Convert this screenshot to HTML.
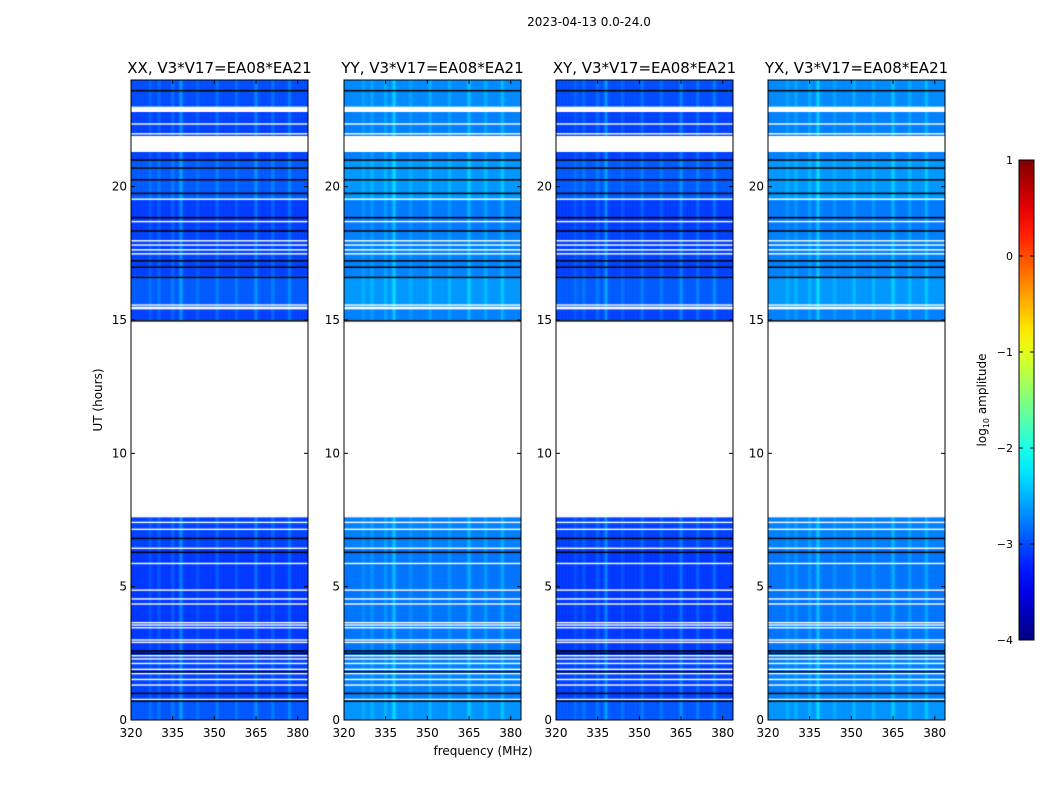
<!DOCTYPE html>
<html><head><meta charset="utf-8">
<style>
body{margin:0;background:#fff;width:1050px;height:800px;overflow:hidden;font-family:"DejaVu Sans","Liberation Sans",sans-serif;}
#root{position:relative;width:1050px;height:800px;}
canvas{position:absolute;}
svg{position:absolute;left:0;top:0;}
</style></head>
<body>
<div id="root">
<svg id="svg" width="1050" height="800"></svg>
</div>
<script>
// ---- data ----
const panelTitles = ["XX, V3*V17=EA08*EA21","YY, V3*V17=EA08*EA21","XY, V3*V17=EA08*EA21","YX, V3*V17=EA08*EA21"];
const panelBase = [-3.05, -2.75, -3.05, -2.75];
const segStart = [0.0, 0.7, 2.5, 6.3, 15.0, 15.5, 16.6, 18.3, 19.5, 21.0, 21.9, 22.9];
const segOffset = [0.1, 0.0, -0.05, 0.0, 0.0, 0.12, 0.0, -0.03, 0.12, 0.0, 0.0, 0.05];
const spikeFreq = [327, 330, 335, 338, 344, 351, 358, 365, 371, 377];
const spikeAmp  = [0.15, 0.18, 0.2, 0.45, 0.15, 0.22, 0.18, 0.35, 0.22, 0.3];
const flagStart = [7.6, 15.4, 21.3, 22.8];
const flagEnd   = [15.0, 15.5, 21.9, 23.0];
const whiteLines = [0.77,1.31,1.52,1.74,1.9,2.12,2.29,2.41,2.91,3.0,3.46,3.56,3.65,4.35,4.54,4.87,5.87,6.44,7.15,7.41,15.56,17.48,17.63,17.81,17.97,18.69,19.53,21.98,22.35];
const blackLines = [0.71,1.0,1.81,2.5,2.59,6.29,6.81,14.97,16.6,16.98,17.22,18.34,18.84,19.75,20.26,20.7,21.0,23.6];
const xTicks = [320,335,350,365,380];
const yTicks = [0,5,10,15,20];
const cbTicks = [1,0,-1,-2,-3,-4];

// ---- geometry ----
const panelX = [131,344,556,768], pw = 177, topY = 80, botY = 720;
const fMin = 320, fMax = 383.7, tMin = 0, tMax = 24;
const xs = (i,f)=>panelX[i] + (f-fMin)/(fMax-fMin)*pw;
const ys = h=> botY - (h-tMin)/(tMax-tMin)*(botY-topY);
const cbX=1019, cbW=15, cbTop=160, cbBot=640, vMin=-4, vMax=1;
const cbY = v=> cbBot - (v-vMin)/(vMax-vMin)*(cbBot-cbTop);

function jet(t){
  t=Math.max(0,Math.min(1,t));
  const r=Math.min(1,Math.max(0,1.5-Math.abs(4*t-3)));
  const g=Math.min(1,Math.max(0,1.5-Math.abs(4*t-2)));
  const b=Math.min(1,Math.max(0,1.5-Math.abs(4*t-1)));
  return `rgb(${Math.round(r*255)},${Math.round(g*255)},${Math.round(b*255)})`;
}
const col = v=> jet((v-vMin)/(vMax-vMin));

const root=document.getElementById('root');
const svg=document.getElementById('svg');
const NS='http://www.w3.org/2000/svg';
function add(tag,attrs,parent,txt){const e=document.createElementNS(NS,tag);for(const k in attrs)e.setAttribute(k,attrs[k]);if(txt!==undefined)e.textContent=String(txt);(parent||svg).appendChild(e);return e;}

function segOff(h){let o=0;for(let k=0;k<segStart.length;k++) if(h>=segStart[k]) o=segOffset[k];return o;}
function spike(f){let s=0;for(let k=0;k<spikeFreq.length;k++){const d=f-spikeFreq[k];s+=spikeAmp[k]*Math.exp(-d*d/0.3);}return s;}

for(let i=0;i<4;i++){
  const c=document.createElement('canvas');
  c.width=pw;c.height=botY-topY;c.style.left=panelX[i]+'px';c.style.top=topY+'px';
  
  
  root.insertBefore(c,svg);
  const ctx=c.getContext('2d');
  const dh=0.1, df=0.5;
  for(let h=0;h<tMax;h+=dh){
    for(let f=fMin;f<fMax;f+=df){
      const v=panelBase[i]+segOff(h)+spike(f+df/2);
      ctx.fillStyle=col(v);
      const x0=xs(i,f)-panelX[i], x1=xs(i,f+df)-panelX[i];
      const y0=ys(h+dh)-topY, y1=ys(h)-topY;
      ctx.fillRect(x0,y0,x1-x0+0.6,y1-y0+0.6);
    }
  }
  ctx.fillStyle='#fff';
  for(let k=0;k<flagStart.length;k++){const y0=ys(flagEnd[k])-topY,y1=ys(flagStart[k])-topY;ctx.fillRect(0,y0,pw,y1-y0);}
  for(const h of whiteLines){ctx.fillRect(0,ys(h)-topY-0.7,pw,1.4);}
  ctx.fillStyle='#000';
  for(const h of blackLines){ctx.fillRect(0,ys(h)-topY-0.7,pw,1.5);}

  const g=add('g',{});
  
  
  add('rect',{x:panelX[i],y:topY,width:pw,height:botY-topY,fill:'none',stroke:'#000','stroke-width':1},g);
  const t=add('text',{x:panelX[i]+pw/2,y:73,'text-anchor':'middle','font-size':15},g,panelTitles[i]);
  
  
  for(const v of xTicks){
    const x=xs(i,v);
    add('line',{x1:x,x2:x,y1:botY,y2:botY-4,stroke:'#000'},g);
    add('line',{x1:x,x2:x,y1:topY,y2:topY+4,stroke:'#000'},g);
    const tl=add('text',{x:x,y:737,'text-anchor':'middle','font-size':12},g,v);
    
    
  }
  for(const v of yTicks){
    const y=ys(v);
    add('line',{x1:panelX[i],x2:panelX[i]+4,y1:y,y2:y,stroke:'#000'},g);
    add('line',{x1:panelX[i]+pw,x2:panelX[i]+pw-4,y1:y,y2:y,stroke:'#000'},g);
    const tl=add('text',{x:panelX[i]-4,y:y+4,'text-anchor':'end','font-size':12},g,v);
    
    
  }
}
let e=add('text',{x:589,y:26,'text-anchor':'middle','font-size':12},svg,'2023-04-13 0.0-24.0');


e=add('text',{x:483,y:755,'text-anchor':'middle','font-size':12},svg,'frequency (MHz)');


e=add('text',{x:102,y:400,'text-anchor':'middle','font-size':12,transform:'rotate(-90 102 400)'},svg,'UT (hours)');



const cb=add('g',{});


const defs=add('defs',{});
const lg=add('linearGradient',{id:'jetg',x1:0,y1:1,x2:0,y2:0},defs);
for(let s=0;s<=20;s++){add('stop',{offset:s/20,'stop-color':jet(s/20)},lg);}
add('rect',{x:cbX,y:cbTop,width:cbW,height:cbBot-cbTop,fill:'url(#jetg)',stroke:'#000'},cb);
for(const v of cbTicks){
  const y=cbY(v);
  add('line',{x1:cbX,x2:cbX+4,y1:y,y2:y,stroke:'#000'},cb);
  add('line',{x1:cbX+cbW,x2:cbX+cbW-4,y1:y,y2:y,stroke:'#000'},cb);
  const tl=add('text',{x:1013,y:y+4,'text-anchor':'end','font-size':11},cb,v<0?'\u2212'+(-v):v);
  
  
}
e=add('text',{x:986,y:400,'text-anchor':'middle','font-size':12,transform:'rotate(-90 986 400)'},cb);
add('tspan',{},e,'log');
add('tspan',{'font-size':8,dy:3},e,'10');
add('tspan',{dy:-3},e,' amplitude');


</script>
</body></html>
